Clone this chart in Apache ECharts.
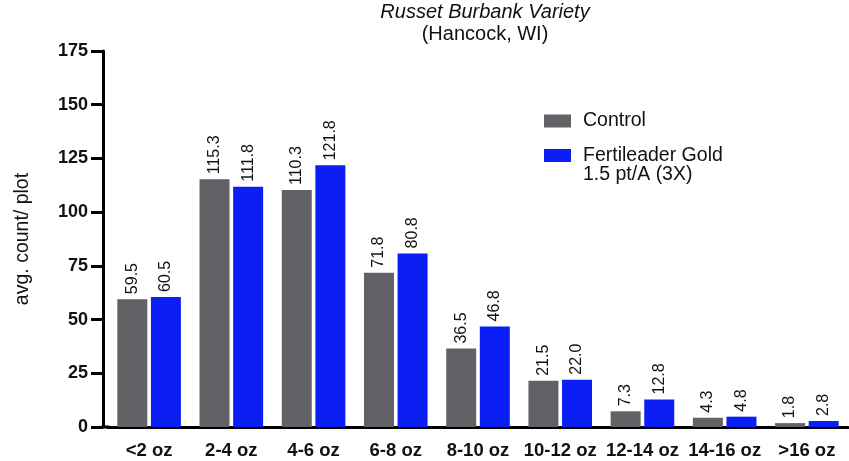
<!DOCTYPE html>
<html>
<head>
<meta charset="utf-8">
<script src="https://cdn.jsdelivr.net/npm/echarts@6/dist/echarts.min.js"></script>
<style>
html,body{margin:0;padding:0;background:#fff;}
#chart{width:849px;height:461px;}
</style>
</head>
<body>
<div id="chart"></div>
<script>
const categories = ['<2 oz', '2-4 oz', '4-6 oz', '6-8 oz', '8-10 oz', '10-12 oz', '12-14 oz', '14-16 oz', '>16 oz'];
const controlValues = [59.5, 115.3, 110.3, 71.8, 36.5, 21.5, 7.3, 4.3, 1.8];
const fertileaderValues = [60.5, 111.8, 121.8, 80.8, 46.8, 22.0, 12.8, 4.8, 2.8];
const yTicks = [0, 25, 50, 75, 100, 125, 150, 175];
const seriesNames = ['Control', 'Fertileader Gold'];
const legendSecondLine = '1.5 pt/A (3X)';

const FONT = '"Liberation Sans", Arial, Helvetica, sans-serif';
const gridLeft = 108, gridRight = 1, gridTop = 51, gridBottom = 34, yOffset = 5;

const chart = echarts.init(document.getElementById('chart'), null, {renderer: 'canvas'});

const labelOpt = {
  show: true,
  position: 'top',
  rotate: 90,
  align: 'left',
  verticalAlign: 'middle',
  distance: 5,
  fontFamily: FONT,
  fontSize: 16,
  color: '#111',
  formatter: p => p.value.toFixed(1)
};

chart.setOption({
  animation: false,
  backgroundColor: '#fff',
  title: [
    {text: 'Russet Burbank Variety', left: 480, top: -3, textAlign: 'center',
     textStyle: {fontFamily: FONT, fontSize: 20, fontStyle: 'italic', fontWeight: 'normal', color: '#111'}},
    {text: '(Hancock, WI)', left: 480, top: 19, textAlign: 'center',
     textStyle: {fontFamily: FONT, fontSize: 20, fontWeight: 'normal', color: '#111'}}
  ],
  legend: {
    orient: 'vertical',
    left: 539,
    top: 105,
    itemWidth: 27,
    itemHeight: 13,
    itemGap: 12.5,
    icon: 'rect',
    data: seriesNames,
    textStyle: {fontFamily: FONT, fontSize: 19.5, lineHeight: 22, color: '#111', padding: [0, 0, 0, 7]}
  },
  graphic: [
    {type: 'text', left: 583, top: 165,
     style: {text: legendSecondLine, font: '19.5px ' + FONT, fill: '#111'}},
    {type: 'rect', shape: {x: gridLeft - yOffset - 1.5, y: 461 - gridBottom - 1.5, width: yOffset + 3, height: 3},
     style: {fill: '#000'}, z: 100}
  ],
  grid: {left: gridLeft, right: gridRight, top: gridTop, bottom: gridBottom, containLabel: false},
  xAxis: {
    type: 'category',
    data: categories,
    axisLine: {lineStyle: {color: '#000', width: 3}},
    axisTick: {alignWithLabel: true, length: 12, lineStyle: {color: '#000', width: 3}},
    axisLabel: {fontFamily: FONT, fontSize: 18.5, fontWeight: 'bold', color: '#111', margin: 14, interval: 0}
  },
  yAxis: {
    type: 'value',
    min: yTicks[0],
    max: yTicks[yTicks.length - 1],
    interval: yTicks[1] - yTicks[0],
    offset: yOffset,
    name: 'avg. count/ plot',
    nameLocation: 'middle',
    nameGap: 70,
    nameTextStyle: {fontFamily: FONT, fontSize: 19.5, color: '#111'},
    axisLine: {show: true, lineStyle: {color: '#000', width: 3}},
    axisTick: {show: true, length: 12, lineStyle: {color: '#000', width: 3}},
    axisLabel: {fontFamily: FONT, fontSize: 18, fontWeight: 'bold', color: '#111', margin: 15},
    splitLine: {show: false}
  },
  series: [
    {name: seriesNames[0], type: 'bar', data: controlValues, barWidth: 30, barGap: '12%',
     itemStyle: {color: '#616166'}, label: labelOpt},
    {name: seriesNames[1], type: 'bar', data: fertileaderValues, barWidth: 30, barGap: '12%',
     itemStyle: {color: '#0b1ff5'}, label: labelOpt}
  ]
});
</script>
</body>
</html>
